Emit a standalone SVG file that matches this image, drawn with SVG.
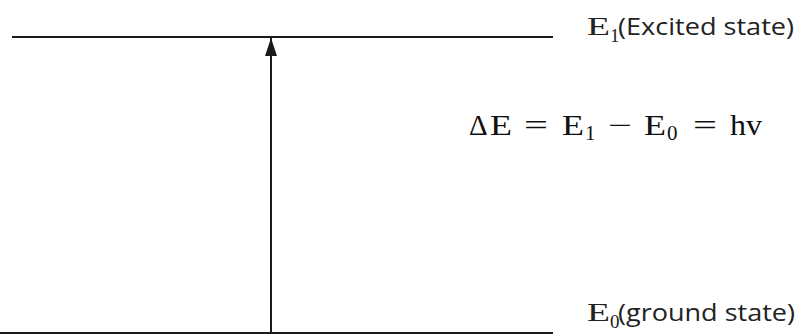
<svg xmlns="http://www.w3.org/2000/svg" width="799" height="334" viewBox="0 0 799 334">
<style>
.lvl{stroke:#1a1a1a;stroke-width:2;fill:none}
.lbl{font-family:"Open Sans","Liberation Sans",sans-serif;font-size:24px;fill:#222}
.ser{font-family:"Liberation Serif","DejaVu Serif",serif;fill:#222}
.eq{font-family:"Liberation Serif","DejaVu Serif",serif;font-size:29px;fill:#111}
.sub{font-size:21px}
</style>
<defs>
<marker id="ah2" viewBox="0 0 18 12" refX="18" refY="6" markerWidth="18" markerHeight="12" markerUnits="userSpaceOnUse" orient="auto"><path d="M0,0 L18,6 L0,12 z" fill="#1a1a1a"/></marker>
</defs>
<g id="excited">
<line class="lvl" x1="12" y1="37" x2="553" y2="37"/>
<text class="ser" x="587" y="35" font-size="26" textLength="23" lengthAdjust="spacingAndGlyphs">E</text>
<text class="ser" x="610" y="42" font-size="19">1</text>
<text class="lbl" x="618" y="35" textLength="176" lengthAdjust="spacingAndGlyphs">(Excited state)</text>
</g>
<g id="ground">
<line class="lvl" x1="0" y1="333" x2="553" y2="333"/>
<text class="ser" x="587" y="321" font-size="26" textLength="23" lengthAdjust="spacingAndGlyphs">E</text>
<text class="ser" x="610" y="328" font-size="19">0</text>
<text class="lbl" x="618" y="321" textLength="177" lengthAdjust="spacingAndGlyphs">(ground state)</text>
</g>
<g id="equation" class="eq">
<text x="469" y="135">Δ</text>
<text x="490" y="135" textLength="22" lengthAdjust="spacingAndGlyphs">E</text>
<text x="524" y="135" textLength="24" lengthAdjust="spacingAndGlyphs">=</text>
<text x="562" y="135" textLength="22" lengthAdjust="spacingAndGlyphs">E</text>
<text x="585" y="140" class="sub">1</text>
<text x="608" y="135" textLength="24" lengthAdjust="spacingAndGlyphs">−</text>
<text x="644" y="135" textLength="22" lengthAdjust="spacingAndGlyphs">E</text>
<text x="667" y="140" class="sub">0</text>
<text x="693" y="135" textLength="24" lengthAdjust="spacingAndGlyphs">=</text>
<text x="730" y="135" textLength="32" lengthAdjust="spacingAndGlyphs">hv</text>
</g>
<g id="connectors">
<line class="lvl" x1="271" y1="334" x2="271" y2="38" marker-end="url(#ah2)"/>
</g>
</svg>
